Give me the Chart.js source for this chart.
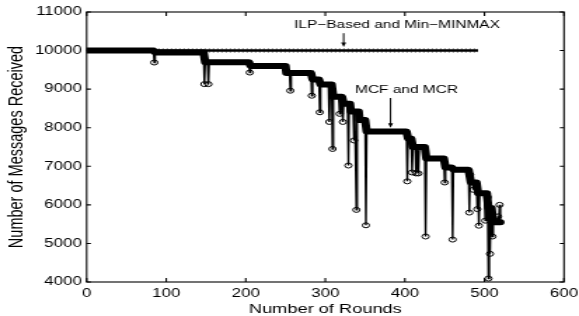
<!DOCTYPE html>
<html>
<head>
<meta charset="utf-8">
<script src="https://cdn.jsdelivr.net/npm/chart.js@4/dist/chart.umd.min.js"></script>
<style>
html, body { margin: 0; padding: 0; background: #fff; overflow: hidden; }
/* the figure is stretched sideways, like the scanned original */
#wrap { width: 413px; height: 316px; transform: scaleX(1.40194); transform-origin: 0 0; }
</style>
</head>
<body>
<div id="wrap"><canvas id="chart" width="413" height="316"></canvas></div>
<script>
// axis ticks
var xTicks = [0, 100, 200, 300, 400, 500, 600];
var yTicks = [4000, 5000, 6000, 7000, 8000, 9000, 10000, 11000];

// ILP-Based and Min-MINMAX: flat at 10000 for every round
var ilpRounds = [0, 492];
var ilpValues = [10000, 10000];

// MCF and MCR: plateaus (first round, last round, messages) ...
var levelStart = [0, 86, 149, 206, 251, 284, 294, 310, 323, 332, 343, 352, 404, 410, 427, 451, 461, 483, 492, 505, 511];
var levelEnd   = [84, 147, 204, 250, 282, 292, 308, 321, 331, 342, 350, 402, 408, 425, 449, 459, 480, 490, 503, 509, 520];
var levelValue = [10000, 9950, 9700, 9600, 9420, 9250, 9120, 8800, 8620, 8420, 8200, 7900, 7720, 7500, 7200, 6970, 6910, 6580, 6300, 5920, 5550];
// ... and the single rounds that drop away from them (the circled points)
var dipRound = [85, 148, 153, 205, 256, 283, 293, 305, 309, 318, 322, 329, 336, 339, 351, 403, 409, 414, 417, 426, 450, 460, 481, 482, 486, 491, 493, 501, 504, 505, 507, 510, 517, 519];
var dipValue = [9690, 9130, 9130, 9430, 8960, 8830, 8400, 8150, 7450, 8360, 8150, 7020, 7670, 5870, 5470, 6610, 6840, 6815, 6815, 5180, 6580, 5100, 5800, 6780, 6390, 5890, 5460, 5590, 6200, 4090, 4730, 5180, 5700, 6000];

// text labels with arrows, in data units
var notes = [
	{ text: 'ILP\u2212Based and Min\u2212MINMAX', x: 390, y: 10660, arrowX: 323, from: 10450, to: 10090 },
	{ text: 'MCF and MCR', x: 402, y: 8980, arrowX: 382, from: 8770, to: 8000 }
];

var font = "'Liberation Sans', Arial, Helvetica, sans-serif";

//value of the plateau a round belongs to
function levelAt(r) {
	for (var i = levelStart.length - 1; i >= 0; i--) {
		if (r >= levelStart[i]) return levelValue[i];
	}
	return levelValue[0];
}

var dipAt = {};
dipRound.forEach((r, i) => { dipAt[r] = dipValue[i]; });

//thin line: plateau ends plus each dip and the rounds either side of it
var keys = new Set();
levelStart.forEach(r => keys.add(r));
levelEnd.forEach(r => keys.add(r));
dipRound.forEach(r => { keys.add(r - 1); keys.add(r); keys.add(r + 1); });
var mcfPoints = Array.from(keys).sort((a, b) => a - b).map(r => ({ x: r, y: (r in dipAt) ? dipAt[r] : levelAt(r) }));
var mcfRadius = mcfPoints.map(p => (p.x in dipAt) ? 2.5 : 0);

//thick band along the plateaus (dense markers in the original)
var bandPoints = [];
levelStart.forEach((s, i) => {
	bandPoints.push({ x: s, y: levelValue[i] }, { x: levelEnd[i], y: levelValue[i] });
});

var ilpPoints = ilpRounds.map((r, i) => ({ x: r, y: ilpValues[i] }));

//box round the plot with ticks pointing inwards, matlab style
var frame = {
	id: 'frame',
	afterDatasetsDraw(chart) {
		var ctx = chart.ctx, a = chart.chartArea, x = chart.scales.x, y = chart.scales.y;
		ctx.save();
		ctx.strokeStyle = '#000';
		ctx.lineWidth = 1.1;
		ctx.strokeRect(a.left, a.top, a.right - a.left, a.bottom - a.top);
		ctx.beginPath();
		x.ticks.forEach(t => {
			var p = x.getPixelForValue(t.value);
			ctx.moveTo(p, a.bottom); ctx.lineTo(p, a.bottom - 4);
			ctx.moveTo(p, a.top); ctx.lineTo(p, a.top + 4);
		});
		y.ticks.forEach(t => {
			var p = y.getPixelForValue(t.value);
			ctx.moveTo(a.left, p); ctx.lineTo(a.left + 3, p);
			ctx.moveTo(a.right, p); ctx.lineTo(a.right - 3, p);
		});
		ctx.stroke();

		//labels and arrows
		ctx.fillStyle = '#000';
		ctx.font = '11px ' + font;
		ctx.textAlign = 'center';
		ctx.textBaseline = 'middle';
		notes.forEach(n => {
			ctx.fillText(n.text, x.getPixelForValue(n.x), y.getPixelForValue(n.y));
			var ax = x.getPixelForValue(n.arrowX);
			var y0 = y.getPixelForValue(n.from), y1 = y.getPixelForValue(n.to);
			ctx.lineWidth = 1;
			ctx.beginPath();
			ctx.moveTo(ax, y0);
			ctx.lineTo(ax, y1 - 3);
			ctx.stroke();
			ctx.beginPath();
			ctx.moveTo(ax, y1);
			ctx.lineTo(ax - 1.8, y1 - 4.5);
			ctx.lineTo(ax + 1.8, y1 - 4.5);
			ctx.closePath();
			ctx.fill();
		});
		ctx.restore();
	}
};

var myChart = new Chart(document.getElementById('chart').getContext('2d'), {
	type: 'line',
	data: {
		datasets: [{
			label: 'MCF and MCR',
			data: mcfPoints,
			borderColor: '#000',
			borderWidth: 1.4,
			pointRadius: mcfRadius,
			pointBorderColor: '#000',
			pointBackgroundColor: 'rgba(0,0,0,0)',
			pointBorderWidth: 1,
			tension: 0,
			order: 1
		}, {
			label: 'MCF band',
			data: bandPoints,
			borderColor: '#000',
			borderWidth: 6,
			borderCapStyle: 'round',
			borderJoinStyle: 'round',
			pointRadius: 0,
			tension: 0,
			order: 2
		}, {
			label: 'ILP-Based and Min-MINMAX',
			data: ilpPoints,
			borderColor: '#000',
			borderWidth: 2.4,
			pointRadius: 0,
			order: 3
		}, {
			label: 'ILP markers',
			data: ilpPoints,
			borderColor: 'rgba(0,0,0,0.4)',
			borderWidth: 5,
			borderDash: [1, 2],
			pointRadius: 0,
			order: 4
		}]
	},
	options: {
		responsive: false,
		devicePixelRatio: 1,
		animation: false,
		events: [],
		layout: {
			padding: { top: 12, right: 10.7, left: 0, bottom: 0 }
		},
		plugins: {
			legend: { display: false },
			tooltip: { enabled: false }
		},
		scales: {
			x: {
				type: 'linear',
				min: xTicks[0],
				max: xTicks[xTicks.length - 1],
				afterBuildTicks: s => { s.ticks = xTicks.map(v => ({ value: v })); },
				afterFit: s => { s.height = 34; s.paddingLeft = 0; s.paddingRight = 0; },
				grid: { display: false, drawTicks: false },
				border: { display: false },
				ticks: { color: '#000', padding: 4.5, maxRotation: 0, callback: v => String(v), font: { family: font, size: 12 } },
				title: { display: true, text: 'Number of Rounds', color: '#000', padding: 0, font: { family: font, size: 13, lineHeight: 1 } }
			},
			y: {
				type: 'linear',
				min: yTicks[0],
				max: yTicks[yTicks.length - 1],
				afterBuildTicks: s => { s.ticks = yTicks.map(v => ({ value: v })); },
				afterFit: s => { s.width = 61.8; s.paddingTop = 0; s.paddingBottom = 0; },
				grid: { display: false, drawTicks: false },
				border: { display: false },
				ticks: { color: '#000', padding: 3.5, callback: v => String(v), font: { family: font, size: 12 } },
				title: { display: true, text: 'Number of Messages Received', color: '#000', padding: { top: 3.5, bottom: 0 }, font: { family: font, size: 14.5, lineHeight: 1.2 } }
			}
		}
	},
	plugins: [frame]
});
</script>
</body>
</html>
